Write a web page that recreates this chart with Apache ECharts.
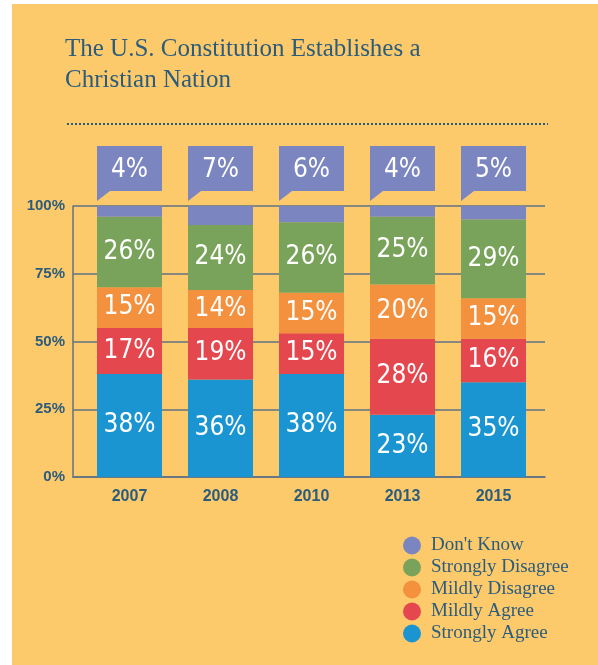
<!DOCTYPE html>
<html>
<head>
<meta charset="utf-8">
<script src="https://cdn.jsdelivr.net/npm/echarts@6/dist/echarts.min.js"></script>
<style>
  html, body { margin: 0; padding: 0; background: #ffffff; }
  #chart { width: 598px; height: 665px; }
</style>
</head>
<body>
<div id="chart"></div>
<script>
const years = ['2007', '2008', '2010', '2013', '2015']
const stronglyAgree = [38, 36, 38, 23, 35]
const mildlyAgree = [17, 19, 15, 28, 16]
const mildlyDisagree = [15, 14, 15, 20, 15]
const stronglyDisagree = [26, 24, 26, 25, 29]
const dontKnow = [4, 7, 6, 4, 5]
const legendOrder = ["Don't Know", 'Strongly Disagree', 'Mildly Disagree', 'Mildly Agree', 'Strongly Agree']

const ink = '#2c5c7c'
const lineColor = '#5f7284'
const narrow = '"DejaVu Sans Condensed", sans-serif'

const myChart = echarts.init(document.getElementById('chart'))

function stackBar(name, values, color) {
	return {
		name: name,
		type: 'bar',
		stack: 'total',
		xAxisIndex: 0,
		yAxisIndex: 0,
		barWidth: 65,
		itemStyle: { color: color },
		label: {
			show: true,
			position: 'inside',
			formatter: '{c}%',
			color: '#ffffff',
			fontSize: 26,
			fontFamily: narrow,
		},
		data: values,
	}
}

let option = {
	animation: false,
	title: {
		text: 'The U.S. Constitution Establishes a\nChristian Nation',
		left: 65,
		top: 34,
		padding: 0,
		textStyle: {
			color: ink,
			fontFamily: '"Liberation Serif", serif',
			fontWeight: 'normal',
			fontSize: 25,
			lineHeight: 31,
		},
	},
	graphic: [
		{
			type: 'rect',
			z: -100,
			shape: { x: 12, y: 4, width: 586, height: 661 },
			style: { fill: '#fcc96b' },
		},
		{
			type: 'line',
			shape: { x1: 67, y1: 124, x2: 548, y2: 124 },
			style: { stroke: ink, lineWidth: 2, lineDash: [2, 2] },
		},
	],
	legend: {
		data: legendOrder,
		orient: 'vertical',
		left: 398,
		top: 531,
		icon: 'circle',
		itemWidth: 18,
		itemHeight: 18,
		itemGap: 3,
		textStyle: {
			color: ink,
			fontFamily: '"Liberation Serif", serif',
			fontSize: 19,
			padding: [0, 0, 0, 5],
		},
	},
	grid: [
		{ left: 84, right: 59, top: 206, bottom: 188 },
		{ left: 73, right: 53, top: 206, bottom: 188 },
	],
	xAxis: [
		{
			type: 'category',
			gridIndex: 0,
			data: years,
			axisLine: { show: false },
			axisTick: { show: false },
			axisLabel: {
				color: ink,
				fontWeight: 'bold',
				fontSize: 16,
				fontFamily: '"Liberation Sans", sans-serif',
				margin: 12,
			},
		},
		{
			type: 'value',
			gridIndex: 1,
			min: 0,
			max: 1,
			axisLine: { show: true, lineStyle: { color: lineColor, width: 1.5 } },
			axisTick: { show: false },
			axisLabel: { show: false },
			splitLine: { show: false },
		},
	],
	yAxis: [
		{
			type: 'value',
			gridIndex: 0,
			min: 0,
			max: 100,
			interval: 25,
			show: false,
		},
		{
			type: 'value',
			gridIndex: 1,
			min: 0,
			max: 100,
			interval: 25,
			axisLine: { show: true, lineStyle: { color: lineColor, width: 1.5 } },
			axisTick: { show: false },
			splitLine: { show: true, lineStyle: { color: lineColor, width: 1.5 } },
			axisLabel: {
				formatter: '{value}%',
				color: ink,
				fontWeight: 'bold',
				fontSize: 15,
				fontFamily: '"Liberation Sans", sans-serif',
				margin: 8,
			},
		},
	],
	series: [
		stackBar('Strongly Agree', stronglyAgree, '#1b95d2'),
		stackBar('Mildly Agree', mildlyAgree, '#e5474f'),
		stackBar('Mildly Disagree', mildlyDisagree, '#f3913e'),
		stackBar('Strongly Disagree', stronglyDisagree, '#79a35a'),
		{
			name: "Don't Know",
			type: 'bar',
			stack: 'total',
			barWidth: 65,
			itemStyle: { color: '#7b86c0' },
			data: dontKnow,
		},
		{
			// callout boxes for the Don't Know share
			name: 'callout',
			type: 'custom',
			xAxisIndex: 0,
			yAxisIndex: 0,
			clip: false,
			renderItem: function (params, api) {
				const top = api.coord([api.value(0), 100])
				const bw = 65
				const left = top[0] - bw / 2
				const y1 = top[1] - 60
				const y2 = top[1] - 15
				return {
					type: 'group',
					children: [
						{
							type: 'polygon',
							shape: {
								points: [[left, y1], [left + bw, y1], [left + bw, y2], [left + 13, y2], [left, y2 + 10], [left, y2]],
							},
							style: { fill: '#7b86c0' },
						},
						{
							type: 'text',
							style: {
								text: api.value(1) + '%',
								x: top[0],
								y: (y1 + y2) / 2 + 2,
								align: 'center',
								verticalAlign: 'middle',
								fill: '#ffffff',
								fontSize: 26,
								fontFamily: narrow,
							},
						},
					],
				}
			},
			data: years.map((y, i) => [i, dontKnow[i]]),
		},
	],
}

myChart.setOption(option)
</script>
</body>
</html>
